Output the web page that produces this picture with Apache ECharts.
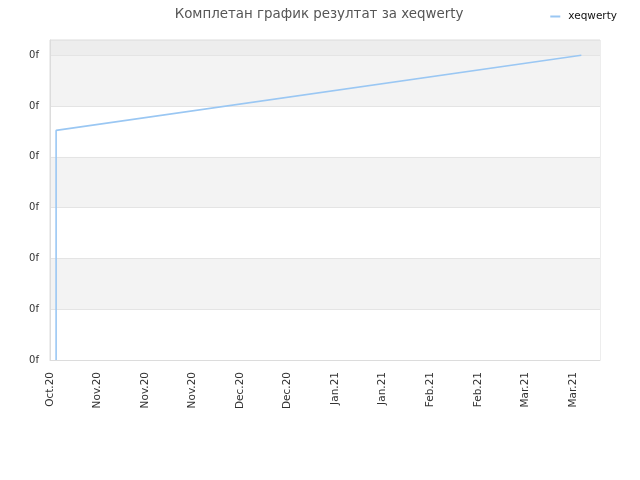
<!DOCTYPE html>
<html>
<head>
<meta charset="utf-8">
<script src="https://cdn.jsdelivr.net/npm/echarts@6/dist/echarts.min.js"></script>
<style>html,body{margin:0;padding:0;background:#fff}#c{width:640px;height:480px}</style>
</head>
<body>
<div id="c"></div>
<script>
// x values are days counted from Oct 18, 2020
var tickLabels = ['Oct.20','Nov.20','Nov.20','Nov.20','Dec.20','Dec.20','Jan.21','Jan.21','Feb.21','Feb.21','Mar.21','Mar.21'];
var seriesName = 'xeqwerty';
var xDays = [1.8, 1.8, 156.5];
var yValues = [0, 4.52, 6.0];

var data = xDays.map(function (d, i) { return [d, yValues[i]]; });

var chart = echarts.init(document.getElementById('c'));
chart.setOption({
  animation: false,
  title: {
    text: 'Комплетан график резултат за xeqwerty',
    left: 314, top: 3, textAlign: 'center',
    textStyle: { fontFamily: 'DejaVu Sans', fontSize: 13.4, fontWeight: 'normal', color: '#555' }
  },
  legend: {
    right: 18, top: 6, itemWidth: 10, itemHeight: 2, itemGap: 10,
    icon: 'rect',
    textStyle: { fontFamily: 'DejaVu Sans', fontSize: 10.5, color: '#111', padding: [0, 0, 0, 3] },
    data: [seriesName]
  },
  grid: { left: 50, right: 40, top: 40, bottom: 120, show: true, borderColor: '#dcdcdc', borderWidth: 1 },
  xAxis: {
    type: 'value', min: 0, max: 162, interval: 14,
    axisLine: { show: true, lineStyle: { color: '#dcdcdc' } },
    axisTick: { show: false },
    splitLine: { show: false },
    axisLabel: {
      rotate: 90, margin: 12, color: '#333', fontFamily: 'DejaVu Sans', fontSize: 10.5,
      formatter: function (v) { var i = Math.round(v / 14); return (v % 14 === 0 && tickLabels[i]) ? tickLabels[i] : ''; }
    }
  },
  yAxis: {
    type: 'value', min: 0, max: 6.3, interval: 1,
    axisLine: { show: true, lineStyle: { color: '#dcdcdc' } },
    axisTick: { show: false },
    splitLine: { show: true, lineStyle: { color: '#e4e4e4' } },
    splitArea: { show: true, areaStyle: { color: ['#ffffff','#f3f3f3','#ffffff','#f3f3f3','#ffffff','#f3f3f3','#ededed'] } },
    axisLabel: {
      margin: 11, color: '#333', fontFamily: 'DejaVu Sans', fontSize: 10,
      formatter: function (v) { return Number.isInteger(v) ? '0f' : ''; }
    }
  },
  series: [{
    name: seriesName, type: 'line', data: data, showSymbol: false, symbol: 'none',
    lineStyle: { color: '#9ac7f3', width: 1.6 }, itemStyle: { color: '#9ac7f3' }
  }]
});
</script>
</body>
</html>
